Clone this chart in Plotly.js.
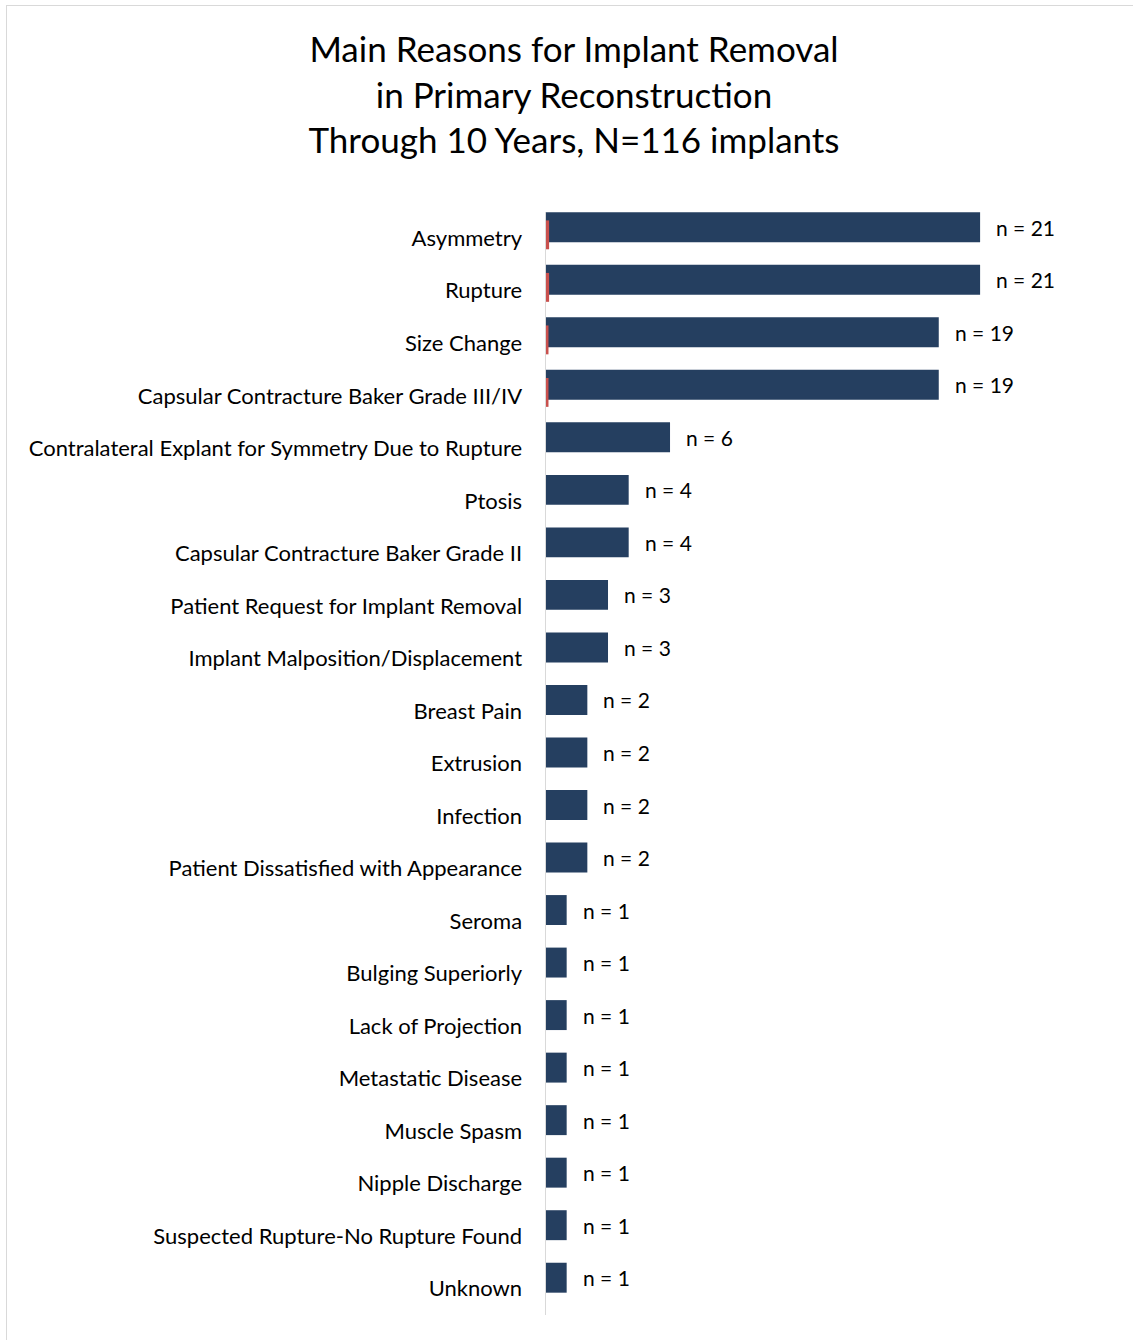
<!DOCTYPE html>
<html>
<head>
<meta charset="utf-8">
<script src="https://cdn.plot.ly/plotly-3.0.1.min.js"></script>
<style>
  html, body { margin: 0; padding: 0; background: #fff; }
  #wrap { position: relative; width: 1133px; height: 1340px; overflow: hidden; }
  #chart { position: absolute; left: 0; top: 0; width: 1133px; height: 1340px; }
  #frame { position: absolute; left: 6px; top: 5px; width: 1200px; height: 1400px;
           border-left: 1.5px solid #D9D9D9; border-top: 1.5px solid #D9D9D9; pointer-events: none; }
</style>
</head>
<body>
<div id="wrap">
  <div id="chart"></div>
  <div id="frame"></div>
</div>
<script>
const categories = [
  "Asymmetry",
  "Rupture",
  "Size Change",
  "Capsular Contracture Baker Grade III/IV",
  "Contralateral Explant for Symmetry Due to Rupture",
  "Ptosis",
  "Capsular Contracture Baker Grade II",
  "Patient Request for Implant Removal",
  "Implant Malposition/Displacement",
  "Breast Pain",
  "Extrusion",
  "Infection",
  "Patient Dissatisfied with Appearance",
  "Seroma",
  "Bulging Superiorly",
  "Lack of Projection",
  "Metastatic Disease",
  "Muscle Spasm",
  "Nipple Discharge",
  "Suspected Rupture-No Rupture Found",
  "Unknown"
];
const counts = [21, 21, 19, 19, 6, 4, 4, 3, 3, 2, 2, 2, 2, 1, 1, 1, 1, 1, 1, 1, 1];
const secondary = [0.15, 0.15, 0.12, 0.12, 0, 0, 0, 0, 0, 0, 0, 0, 0, 0, 0, 0, 0, 0, 0, 0, 0];
const countLabels = counts.map(v => "n = " + v);

const FONT = "Lato, 'Open Sans', sans-serif";

const traces = [
  {
    type: "bar",
    orientation: "h",
    y: categories,
    x: counts,
    marker: { color: "#253F60" },
    offset: -0.495,
    width: 0.57,
    hoverinfo: "x+y",
    showlegend: false
  },
  {
    type: "bar",
    orientation: "h",
    y: categories,
    x: secondary,
    marker: { color: "#C9504D" },
    offset: -0.34,
    width: 0.55,
    hoverinfo: "skip",
    showlegend: false
  }
];

const annotations = categories.map((c, i) => ({
  x: counts[i],
  y: c,
  xref: "x",
  yref: "y",
  text: countLabels[i],
  showarrow: false,
  xanchor: "left",
  yanchor: "middle",
  xshift: 14,
  yshift: 11,
  font: { family: FONT, size: 21, color: "#000000" }
}));

const layout = {
  width: 1133,
  height: 1340,
  paper_bgcolor: "#ffffff",
  plot_bgcolor: "#ffffff",
  barmode: "overlay",
  margin: { l: 546, r: 33, t: 212, b: 25 },
  title: {
    text: "Main Reasons for Implant Removal<br>in Primary Reconstruction<br>Through 10 Years, N=116 implants",
    font: { family: FONT, size: 35, color: "#000000" },
    x: 574 / 1133,
    xanchor: "center",
    xref: "container",
    yref: "container",
    y: 1 - 62 / 1340,
    yanchor: "top"
  },
  xaxis: {
    range: [0, 26.8],
    showgrid: false,
    zeroline: false,
    showline: false,
    showticklabels: false,
    ticks: ""
  },
  yaxis: {
    type: "category",
    range: [20.5, -0.5],
    showgrid: false,
    zeroline: false,
    showline: true,
    linecolor: "#D9D9D9",
    linewidth: 1.5,
    ticks: "",
    ticklabelstandoff: 18,
    tickfont: { family: FONT, size: 22, color: "#000000" }
  },
  annotations: annotations
};

Plotly.newPlot("chart", traces, layout, { displayModeBar: false, staticPlot: true });
</script>
</body>
</html>
